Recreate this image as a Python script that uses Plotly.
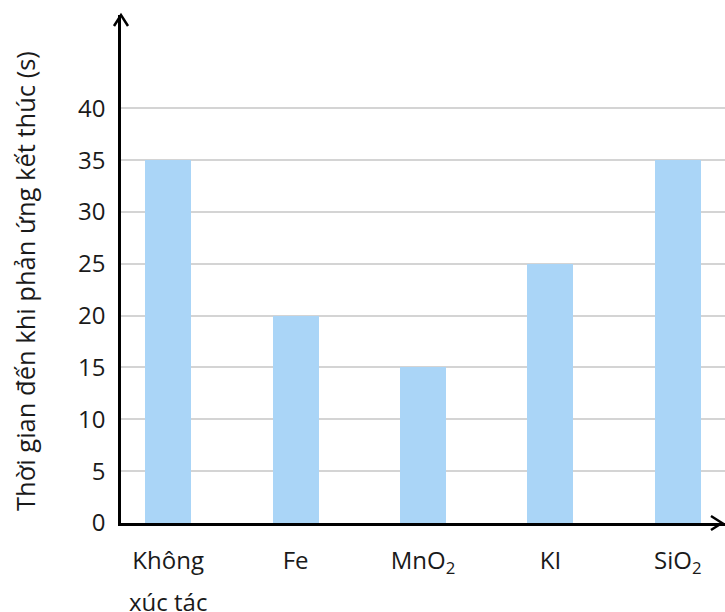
import plotly.graph_objects as go

categories = ["Không", "Fe", "MnO<sub>2</sub>", "KI", "SiO<sub>2</sub>"]
category_second_line = ["xúc tác", "", "", "", ""]
times = [35, 20, 15, 25, 35]
y_ticks = [0, 5, 10, 15, 20, 25, 30, 35, 40]
y_title = "Thời gian đến khi phản ứng kết thúc (s)"

x_idx = list(range(len(categories)))

fig = go.Figure()
fig.add_trace(go.Bar(
    x=x_idx, y=times, width=0.36,
    marker=dict(color="#aad5f7", line=dict(width=0)),
    showlegend=False,
))

font_family = "Open Sans, Noto Sans, sans-serif"

fig.update_layout(
    width=725, height=612,
    margin=dict(l=121, r=0, t=15, b=89),
    plot_bgcolor="white", paper_bgcolor="white",
    font=dict(family=font_family, size=24, color="#1a1a1a"),
    xaxis=dict(
        range=[-0.37, 4.37], automargin=False,
        tickmode="array", tickvals=x_idx, ticktext=categories,
        showline=True, linecolor="black", linewidth=2.5,
        showgrid=False, zeroline=False,
        ticks="outside", ticklen=0, ticklabelstandoff=14,
        tickfont=dict(size=24),
    ),
    yaxis=dict(
        range=[0, 49], automargin=False,
        tickmode="array", tickvals=y_ticks,
        showline=True, linecolor="black", linewidth=2.5,
        showgrid=True, gridcolor="#d4d4d4", gridwidth=1.5,
        zeroline=False,
        ticks="outside", ticklen=0, ticklabelstandoff=8,
        tickfont=dict(size=24),
    ),
    bargap=0,
)

# y-axis title
fig.add_annotation(x=0, y=0.5, xref="paper", yref="paper", text=y_title,
                   textangle=-90, showarrow=False, xanchor="center",
                   yanchor="middle", xshift=-96, yshift=-12,
                   font=dict(size=25.5))

# second line of multi-line category labels
for i, txt in enumerate(category_second_line):
    if txt:
        fig.add_annotation(x=i, y=0, xref="x", yref="y", text=txt,
                           showarrow=False, yanchor="top", yshift=-60,
                           font=dict(size=24))

# arrowheads at the ends of the axes
fig.add_shape(type="path", xref="paper", yref="paper",
              xsizemode="pixel", ysizemode="pixel",
              xanchor=0, yanchor=1,
              path="M-7,-11 L0,0 L7,-11",
              line=dict(color="black", width=2.5))
fig.add_shape(type="path", xref="paper", yref="paper",
              xsizemode="pixel", ysizemode="pixel",
              xanchor=0.995, yanchor=0,
              path="M-11,7 L0,0 L-11,-7",
              line=dict(color="black", width=2.5))

fig.write_html(
    "out.html",
    config={"displayModeBar": False},
    post_script="document.body.style.margin='0';document.body.style.overflow='hidden';",
)
